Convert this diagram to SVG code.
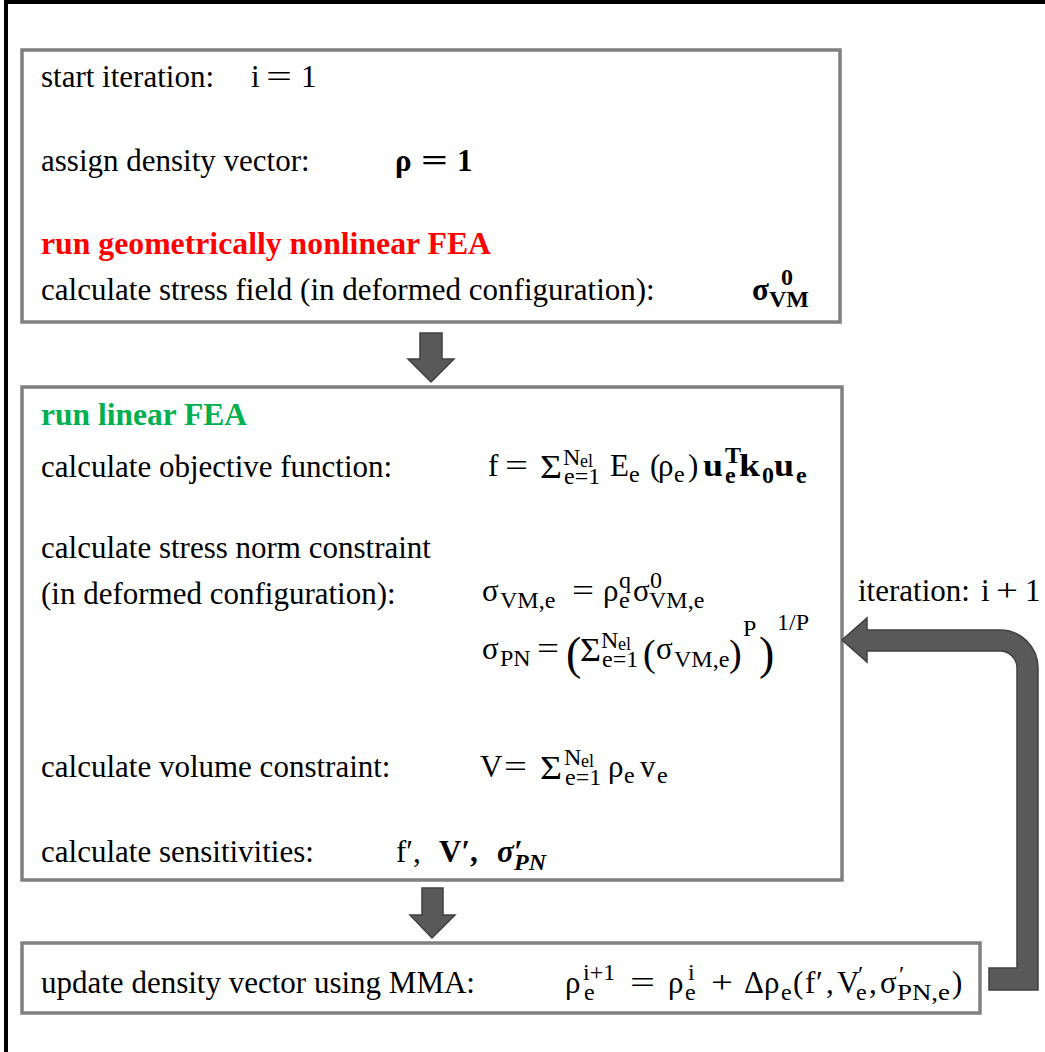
<svg xmlns="http://www.w3.org/2000/svg" width="1045" height="1052" viewBox="0 0 1045 1052">
  <style>
    .frame { fill: none; stroke: #000; stroke-width: 4; }
    .box { fill: #fff; stroke: #808080; stroke-width: 3.5; }
    .flow { fill: #595959; stroke: #404040; stroke-width: 1.5; stroke-linejoin: miter; }
    text { font-family: "Liberation Serif", "Times New Roman", serif; font-size: 31px; fill: #000; }
    .s { font-size: 24px; }
    .ss { font-size: 18px; }
    .sum { font-size: 33px; }
    .bp { font-size: 46px; }
    .mp { font-size: 38px; }
    .b { font-weight: bold; }
    .bi { font-weight: bold; font-style: italic; }
    .red { fill: #ff0000; font-weight: bold; }
    .green { fill: #00b050; font-weight: bold; }
  </style>

  <!-- outer frame -->
  <rect class="frame" x="6" y="2" width="1100" height="1100"/>

  <!-- step 1: initialisation and nonlinear analysis -->
  <g id="node-init">
    <rect class="box" x="22" y="50" width="818" height="272"/>
    <text x="41" y="87">start iteration:</text>
    <text x="251" y="87">i</text>
    <text x="266" y="87" textLength="26" lengthAdjust="spacingAndGlyphs">=</text>
    <text x="301" y="87">1</text>
    <text x="41" y="171">assign density vector:</text>
    <text class="b" x="395" y="171">ρ</text>
    <text class="b" x="421" y="171" textLength="27" lengthAdjust="spacingAndGlyphs">=</text>
    <text class="b" x="457" y="171">1</text>
    <text class="red" x="41" y="254" textLength="450" lengthAdjust="spacingAndGlyphs">run geometrically nonlinear FEA</text>
    <text x="41" y="300">calculate stress field (in deformed configuration):</text>
    <text class="b" x="752" y="300">σ</text>
    <text class="b s" x="781" y="285">0</text>
    <text class="b s" x="769" y="307">VM</text>
  </g>

  <!-- step 2: linear analysis, responses and sensitivities -->
  <g id="node-linear">
    <rect class="box" x="22" y="387" width="820" height="493"/>
    <text class="green" x="41" y="425" textLength="206" lengthAdjust="spacingAndGlyphs">run linear FEA</text>

    <text x="41" y="477">calculate objective function:</text>
    <g id="eq-objective">
      <text x="488" y="476">f</text>
      <text x="505" y="476" textLength="23" lengthAdjust="spacingAndGlyphs">=</text>
      <text class="sum" x="540" y="478" textLength="22" lengthAdjust="spacingAndGlyphs">Σ</text>
      <text class="s" x="563" y="465">N</text>
      <text class="ss" x="580" y="467">el</text>
      <text class="s" x="564" y="484">e=1</text>
      <text x="610" y="476">E</text>
      <text class="s" x="629" y="482">e</text>
      <text x="650" y="476">(</text>
      <text x="658" y="476">ρ</text>
      <text class="s" x="674" y="482">e</text>
      <text x="688" y="476">)</text>
      <text class="b" x="703" y="476" textLength="20" lengthAdjust="spacingAndGlyphs">u</text>
      <text class="b s" x="725" y="463">T</text>
      <text class="b s" x="725" y="483">e</text>
      <text class="b" x="739" y="476" textLength="21" lengthAdjust="spacingAndGlyphs">k</text>
      <text class="b s" x="762" y="483">0</text>
      <text class="b" x="774" y="476" textLength="20" lengthAdjust="spacingAndGlyphs">u</text>
      <text class="b s" x="796" y="483">e</text>
    </g>

    <text x="41" y="558">calculate stress norm constraint</text>
    <text x="41" y="604">(in deformed configuration):</text>
    <g id="eq-vm">
      <text x="482" y="601">σ</text>
      <text class="s" x="500" y="608">VM,e</text>
      <text x="572" y="601" textLength="22" lengthAdjust="spacingAndGlyphs">=</text>
      <text x="603" y="601">ρ</text>
      <text class="s" x="619" y="588">q</text>
      <text class="s" x="619" y="608">e</text>
      <text x="633" y="601">σ</text>
      <text class="s" x="650" y="588">0</text>
      <text class="s" x="649" y="608">VM,e</text>
    </g>
    <g id="eq-pnorm">
      <text x="482" y="659">σ</text>
      <text class="s" x="500" y="666">PN</text>
      <text x="537" y="659" textLength="22" lengthAdjust="spacingAndGlyphs">=</text>
      <text class="bp" x="566" y="669">(</text>
      <text class="sum" x="580" y="661" textLength="21" lengthAdjust="spacingAndGlyphs">Σ</text>
      <text class="s" x="601" y="648">N</text>
      <text class="ss" x="618" y="650">el</text>
      <text class="s" x="602" y="667">e=1</text>
      <text class="mp" x="643" y="666">(</text>
      <text x="656" y="659">σ</text>
      <text class="s" x="674" y="667">VM,e</text>
      <text class="mp" x="729" y="666">)</text>
      <text class="s" x="743" y="636">P</text>
      <text class="bp" x="759" y="669">)</text>
      <text class="s" x="777" y="630">1/P</text>
    </g>

    <text x="41" y="777">calculate volume constraint:</text>
    <g id="eq-volume">
      <text x="480" y="777">V</text>
      <text x="504" y="777" textLength="23" lengthAdjust="spacingAndGlyphs">=</text>
      <text class="sum" x="540" y="779" textLength="22" lengthAdjust="spacingAndGlyphs">Σ</text>
      <text class="s" x="564" y="765">N</text>
      <text class="ss" x="581" y="767">el</text>
      <text class="s" x="565" y="785">e=1</text>
      <text x="608" y="777">ρ</text>
      <text class="s" x="624" y="783">e</text>
      <text x="640" y="777">v</text>
      <text class="s" x="657" y="783">e</text>
    </g>

    <text x="41" y="862">calculate sensitivities:</text>
    <g id="eq-sens">
      <text x="396" y="862">f′,</text>
      <text class="b" x="439" y="862">V′,</text>
      <text class="bi" x="497" y="862">σ′</text>
      <text class="bi s" x="514" y="870">PN</text>
    </g>
  </g>

  <!-- step 3: design update -->
  <g id="node-update">
    <rect class="box" x="22" y="943" width="958" height="70"/>
    <text x="41" y="993">update density vector using MMA:</text>
    <g id="eq-update">
      <text x="565" y="993">ρ</text>
      <text class="s" x="583" y="980">i+1</text>
      <text class="s" x="584" y="1000">e</text>
      <text x="630" y="993" textLength="25" lengthAdjust="spacingAndGlyphs">=</text>
      <text x="668" y="993">ρ</text>
      <text class="s" x="688" y="980">i</text>
      <text class="s" x="685" y="1000">e</text>
      <text x="711" y="993" textLength="22" lengthAdjust="spacingAndGlyphs">+</text>
      <text x="744" y="993">Δ</text>
      <text x="764" y="993">ρ</text>
      <text class="s" x="781" y="1000">e</text>
      <text x="793" y="993">(</text>
      <text x="805" y="993">f</text>
      <text x="816" y="993">′</text>
      <text x="826" y="993">,</text>
      <text x="837" y="993">V</text>
      <text class="s" x="858" y="982">′</text>
      <text class="s" x="856" y="1000">e</text>
      <text x="869" y="993">,</text>
      <text x="880" y="993">σ</text>
      <text class="s" x="899" y="982">′</text>
      <text class="s" x="897" y="1000" textLength="53" lengthAdjust="spacingAndGlyphs">PN,e</text>
      <text x="952" y="993">)</text>
    </g>
  </g>

  <!-- loop label -->
  <g id="label-iteration">
    <text x="858" y="601">iteration:</text>
    <text x="981" y="601">i</text>
    <text x="996" y="601" textLength="22" lengthAdjust="spacingAndGlyphs">+</text>
    <text x="1025" y="601">1</text>
  </g>

  <!-- connectors -->
  <g id="connectors">
    <polygon class="flow" points="420,333 442,333 442,359 454,359 431,382 408,359 420,359"/>
    <polygon class="flow" points="422,888 443,888 443,915 455,915 432,938 410,915 422,915"/>
    <path class="flow" d="M989,968 H1017 V668 A17,17 0 0 0 1000,651 H867 V662 L842,640 L867,618 V630 H1000 A38,38 0 0 1 1038,668 V990 H989 Z"/>
  </g>
</svg>
